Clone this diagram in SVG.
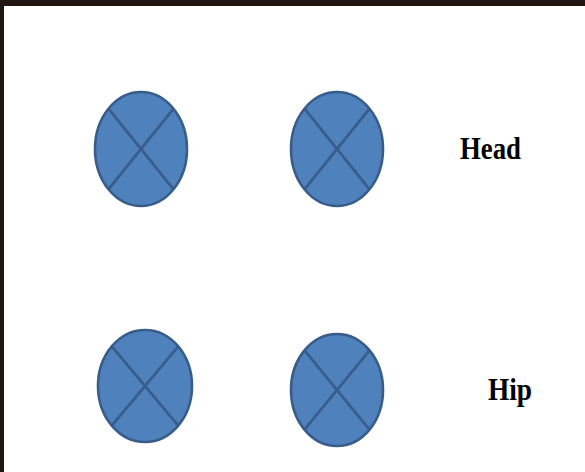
<svg xmlns="http://www.w3.org/2000/svg" width="585" height="472" viewBox="0 0 585 472">
<style>
.sj ellipse{fill:#4f81bd;stroke:#385d8a;stroke-width:2.6}
.sj line{stroke:#385d8a;stroke-width:2.8}
.lbl{font-family:"Liberation Serif","Times New Roman",serif;font-weight:bold;font-size:32px;fill:#000}
</style>
<rect x="0" y="0" width="585" height="472" fill="#1f1612"/>
<rect x="4" y="6" width="581" height="466" fill="#ffffff"/>
<g id="node-head-left" class="sj">
<ellipse cx="141" cy="149" rx="46" ry="57"/>
<line x1="108.5" y1="108.7" x2="173.5" y2="189.3"/>
<line x1="173.5" y1="108.7" x2="108.5" y2="189.3"/>
</g>
<g id="node-head-right" class="sj">
<ellipse cx="337" cy="149" rx="46" ry="57"/>
<line x1="304.5" y1="108.7" x2="369.5" y2="189.3"/>
<line x1="369.5" y1="108.7" x2="304.5" y2="189.3"/>
</g>
<g id="node-hip-left" class="sj">
<ellipse cx="145" cy="386" rx="47" ry="56"/>
<line x1="111.8" y1="346.4" x2="178.2" y2="425.6"/>
<line x1="178.2" y1="346.4" x2="111.8" y2="425.6"/>
</g>
<g id="node-hip-right" class="sj">
<ellipse cx="337" cy="390" rx="46" ry="56"/>
<line x1="304.5" y1="350.4" x2="369.5" y2="429.6"/>
<line x1="369.5" y1="350.4" x2="304.5" y2="429.6"/>
</g>
<g id="connectors"></g>
<g id="label-head"><text class="lbl" x="460" y="159" textLength="61" lengthAdjust="spacingAndGlyphs">Head</text></g>
<g id="label-hip"><text class="lbl" x="488" y="400" textLength="44" lengthAdjust="spacingAndGlyphs">Hip</text></g>
</svg>
